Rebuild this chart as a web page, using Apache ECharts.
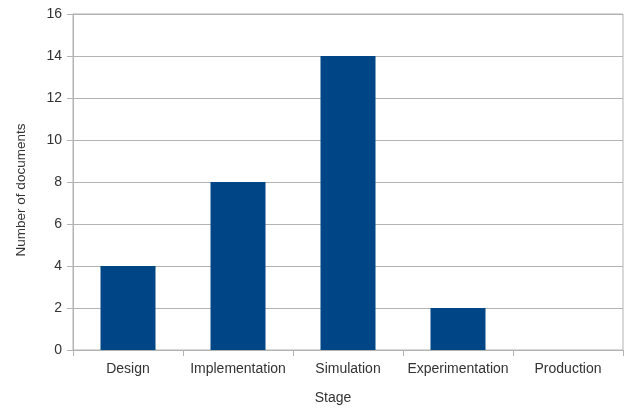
<!DOCTYPE html>
<html><head><meta charset="utf-8">
<script src="https://cdn.jsdelivr.net/npm/echarts@6/dist/echarts.min.js"></script>
<style>html,body{margin:0;padding:0;background:#fff}#c{width:626px;height:409px}</style>
</head><body><div id="c"></div>
<script>
const categories = ['Design', 'Implementation', 'Simulation', 'Experimentation', 'Production'];
const documents = [4, 8, 14, 2, 0];
const xName = 'Stage';
const yName = 'Number of documents';

const chart = echarts.init(document.getElementById('c'), null, {renderer: 'canvas'});
const axisGray = '#b3b3b3';
const font = 'Liberation Sans';
chart.setOption({
  animation: false,
  grid: {left: 73, right: 3, top: 14, bottom: 59, show: true, borderColor: axisGray, borderWidth: 1,
         containLabel: false, outerBoundsMode: 'none'},
  xAxis: {
    type: 'category', data: categories,
    name: xName, nameLocation: 'middle', nameGap: 41,
    nameTextStyle: {fontFamily: font, fontSize: 14, color: '#333', padding: [0, 30, 0, 0]},
    axisLine: {lineStyle: {color: axisGray}},
    axisTick: {show: true, length: 6, lineStyle: {color: axisGray}, alignWithLabel: false},
    axisLabel: {fontFamily: font, fontSize: 14, color: '#333', margin: 12, interval: 0, hideOverlap: false}
  },
  yAxis: {
    type: 'value', min: 0, max: 16, interval: 2,
    name: yName, nameLocation: 'middle', nameGap: 45,
    nameTextStyle: {fontFamily: font, fontSize: 13.5, color: '#333', padding: [0, 16, 0, 0]},
    axisLine: {show: true, lineStyle: {color: axisGray}},
    axisTick: {show: true, length: 6, lineStyle: {color: axisGray}},
    splitLine: {lineStyle: {color: axisGray}},
    axisLabel: {fontFamily: font, fontSize: 14, color: '#333', margin: 11}
  },
  series: [{
    type: 'bar', data: documents, barWidth: '50%',
    itemStyle: {color: '#004586'}
  }]
});
</script></body></html>
